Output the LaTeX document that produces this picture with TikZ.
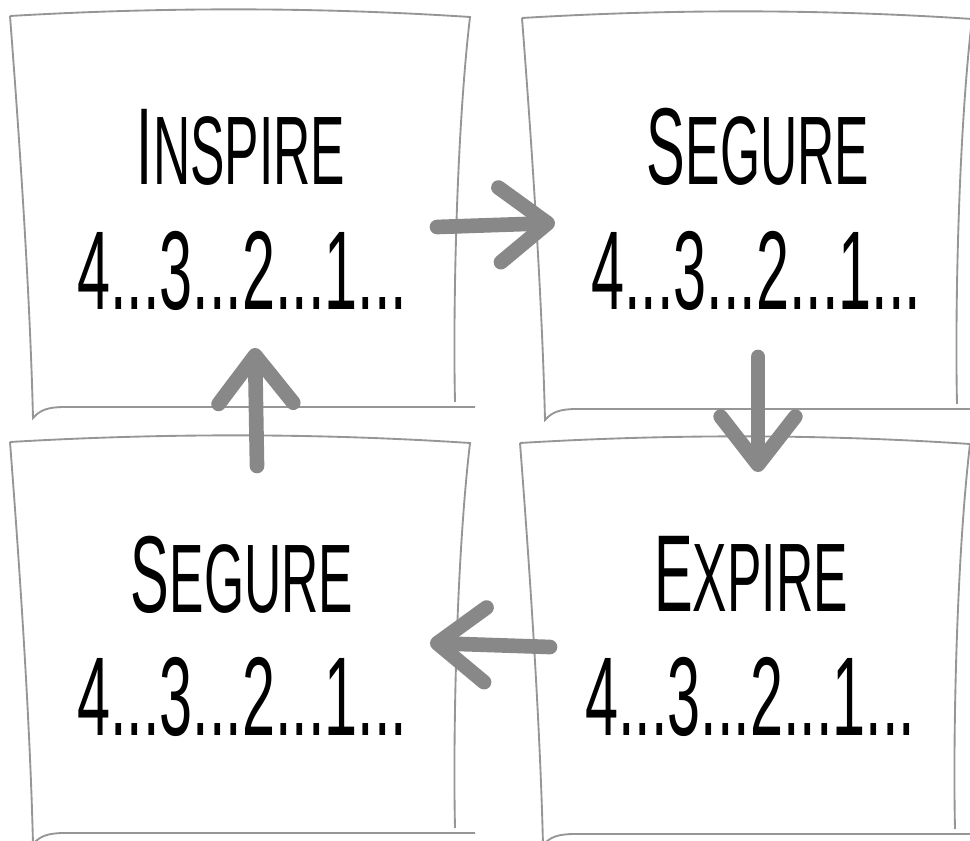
\documentclass[tikz,border=0pt]{standalone}
\usepackage{fontspec}
\usepackage{xcolor}
\usetikzlibrary{arrows.meta}
\newfontfamily\cardfont{Liberation Sans}[FakeStretch=0.53]

\definecolor{cardline}{RGB}{150,150,150}
\definecolor{arrowgray}{RGB}{136,136,136}

% first letter a bit taller than the rest
\newcommand\cardtitle[2]{{\fontsize{82}{82}\selectfont #1}{\fontsize{73}{73}\selectfont #2}}

\tikzset{
  pics/card/.style={code={
    \begin{scope}[yscale=-1]
    % top and right edge
    \draw [cardline, line width=1.4pt] (0,0) .. controls (#1/3,-9) and (2*#1/3,-9) .. (#1,1) .. controls (#1-14,120) and (#1-17,300) .. (#1-15,386) ;
    % left edge with the curled bottom
    \draw [cardline, line width=1.4pt] (0,0) .. controls (10,130) and (20,280) .. (23,402) .. controls (30,394) and (38,391) .. (55,391) -- (#1+5,391) ;
    \end{scope}
  }},
  cardhead/.style={font=\cardfont, anchor=base, inner sep=0pt},
  cardcount/.style={font=\cardfont\fontsize{84}{84}\selectfont, anchor=base, inner sep=0pt},
  cyclearrow/.style={draw=arrowgray, line width=11pt, line cap=round, line join=round,
    -{Straight Barb[length=36pt,width=56pt,line cap=round,line join=round]}}
}

\begin{document}
\begin{tikzpicture}[x=0.75pt,y=0.75pt,yscale=-1,xscale=1]
  \useasboundingbox (0,0) rectangle (970,841);

  %Shape: Cards
  \pic at (10,16) {card=460};
  \pic at (522,18) {card=450};
  \pic at (10,442) {card=460};
  \pic at (520,443) {card=450};

  % Text Node
  \node [cardhead] (inspire) at (241,185) {\cardtitle{I}{NSPIRE}};
  \node [cardcount] (inspirecount) at (242,310) {4...3...2...1...};
  % Text Node
  \node [cardhead] (segure) at (758,185) {\cardtitle{S}{EGURE}};
  \node [cardcount] (segurecount) at (756,310) {4...3...2...1...};
  % Text Node
  \node [cardhead] (expire) at (751,611) {\cardtitle{E}{XPIRE}};
  \node [cardcount] (expirecount) at (750,735) {4...3...2...1...};
  % Text Node
  \node [cardhead] (segureback) at (242,612) {\cardtitle{S}{EGURE}};
  \node [cardcount] (segurebackcount) at (242,735) {4...3...2...1...};

  %Straight Lines: arrow ends
  \coordinate (rtail) at (437,227);
  \coordinate (rtip) at (555,223);
  \coordinate (dtail) at (758,357);
  \coordinate (dtip) at (758,472);
  \coordinate (ltail) at (550,647);
  \coordinate (ltip) at (430,643);
  \coordinate (utail) at (257,466);
  \coordinate (utip) at (255,348);

  %Straight Lines
  \draw [cyclearrow] (rtail) -- (rtip);
  \draw [cyclearrow] (dtail) -- (dtip);
  \draw [cyclearrow] (ltail) -- (ltip);
  \draw [cyclearrow] (utail) -- (utip);
\end{tikzpicture}
\end{document}
